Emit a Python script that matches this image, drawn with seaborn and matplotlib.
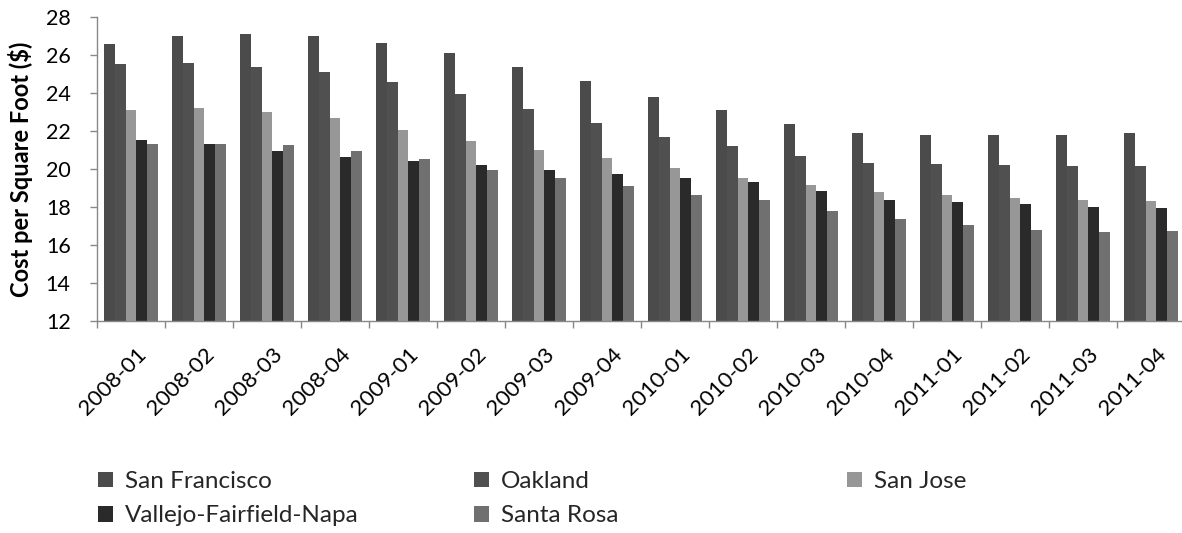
import numpy as np
import pandas as pd
import matplotlib
matplotlib.use("Agg")
import matplotlib.pyplot as plt
import matplotlib.transforms as mtransforms
import seaborn as sns

# Quarterly office cost per square foot by market
quarters = ["2008-01", "2008-02", "2008-03", "2008-04",
            "2009-01", "2009-02", "2009-03", "2009-04",
            "2010-01", "2010-02", "2010-03", "2010-04",
            "2011-01", "2011-02", "2011-03", "2011-04"]
markets = ["San Francisco", "Oakland", "San Jose",
           "Vallejo-Fairfield-Napa", "Santa Rosa"]
san_francisco = [26.58, 27.01, 27.14, 27.01, 26.64, 26.10, 25.40, 24.66,
                 23.81, 23.13, 22.36, 21.88, 21.81, 21.79, 21.81, 21.88]
oakland = [25.52, 25.60, 25.40, 25.13, 24.57, 23.95, 23.18, 22.41,
           21.72, 21.20, 20.70, 20.30, 20.25, 20.21, 20.14, 20.17]
san_jose = [23.10, 23.20, 22.99, 22.69, 22.04, 21.48, 21.02, 20.60,
            20.04, 19.51, 19.14, 18.80, 18.64, 18.50, 18.38, 18.33]
vallejo = [21.53, 21.32, 20.98, 20.65, 20.41, 20.23, 19.96, 19.74,
           19.54, 19.30, 18.84, 18.40, 18.27, 18.17, 18.01, 17.93]
santa_rosa = [21.32, 21.35, 21.28, 20.98, 20.53, 19.96, 19.51, 19.09,
              18.64, 18.38, 17.80, 17.40, 17.06, 16.78, 16.71, 16.73]
y_ticks = [12, 14, 16, 18, 20, 22, 24, 26, 28]

series = [san_francisco, oakland, san_jose, vallejo, santa_rosa]
df = pd.DataFrame({
    "quarter": np.tile(quarters, len(markets)),
    "market": np.repeat(markets, len(quarters)),
    "cost": np.concatenate(series),
})

palette = ["#4b4b4b", "#505050", "#979797", "#2a2a2a", "#707070"]

sns.set_theme(style="white")
plt.rcParams["font.family"] = ["Lato", "DejaVu Sans"]

fig = plt.figure(figsize=(11.82, 5.33), dpi=100)
ax = fig.add_axes([97 / 1182, 1 - 321 / 533, 1088 / 1182, (321 - 17.3) / 533])

sns.barplot(data=df, x="quarter", y="cost", hue="market", order=quarters,
            hue_order=markets, palette=palette, width=0.78, gap=0,
            linewidth=0, saturation=1, errorbar=None, ax=ax)

handles, labels = ax.get_legend_handles_labels()
ax.get_legend().remove()

ax.set_ylim(12, 28)
ax.set_xlim(-0.5, len(quarters) - 0.5)
ax.set_yticks(y_ticks)
ax.set_yticklabels([str(v) for v in y_ticks], fontsize=15.5, color="black")
ax.set_ylabel("Cost per Square Foot ($)", fontsize=17, fontweight="bold",
              color="black", labelpad=9)
ax.set_xlabel("")

# Category labels at group centres, tick marks on group boundaries
ax.set_xticks(range(len(quarters)))
ax.set_xticklabels(quarters, rotation=45, ha="right", va="center",
                   rotation_mode="anchor", fontsize=16, color="black")
ax.set_xticks(np.arange(-0.5, len(quarters), 1.0), minor=True)
ax.tick_params(axis="x", which="major", length=0, pad=22)
ax.tick_params(axis="x", which="minor", length=5, width=1, color="#888888",
               direction="out", bottom=True)
ax.tick_params(axis="y", length=5, width=1, color="#888888", direction="out",
               left=True, pad=14)
shift = mtransforms.ScaledTranslation(12 / 100, 0, fig.dpi_scale_trans)
for lbl in ax.get_xticklabels():
    lbl.set_transform(lbl.get_transform() + shift)

for side in ["top", "right"]:
    ax.spines[side].set_visible(False)
for side in ["left", "bottom"]:
    ax.spines[side].set_color("#888888")
    ax.spines[side].set_linewidth(1)

# Legend laid out in rows of three below the chart
columns = [[0, 3], [1, 4], [2]]
col_x = [98, 474, 847]
for cx, idx in zip(col_x, columns):
    leg = fig.legend([handles[i] for i in idx], [labels[i] for i in idx],
                     loc="upper left",
                     bbox_to_anchor=(cx / 1182, 1 - 471 / 533),
                     frameon=False, fontsize=17.5, handlelength=0.6,
                     handleheight=0.6, handletextpad=0.5, borderpad=0,
                     borderaxespad=0, labelspacing=0.55)

fig.savefig("out.png", dpi=100)
